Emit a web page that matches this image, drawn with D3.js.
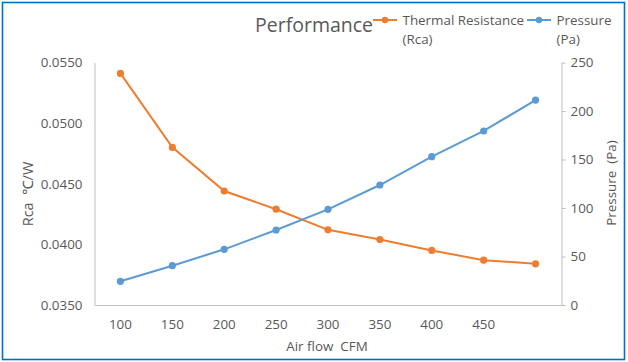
<!DOCTYPE html>
<html>
<head>
<meta charset="utf-8">
<script src="https://cdn.jsdelivr.net/npm/d3@7"></script>
<style>
  html, body { margin: 0; padding: 0; background: #fff; }
  text { font-family: "Open Sans", "Noto Sans", sans-serif; fill: #595959; }
</style>
</head>
<body>
<svg id="chart" width="628" height="362"></svg>
<script>
const categories = ["100", "150", "200", "250", "300", "350", "400", "450", ""];
const thermalResistance = [0.0541, 0.0480, 0.0444, 0.0429, 0.0412, 0.0404, 0.0395, 0.0387, 0.0384];
const pressure = [24.4, 40.5, 57.4, 77.3, 98.6, 123.7, 152.9, 179.4, 211.3];
const leftTicks = [0.035, 0.040, 0.045, 0.050, 0.055];
const rightTicks = [0, 50, 100, 150, 200, 250];

const svg = d3.select("#chart");
const m = { left: 94.5, right: 561.5, top: 62.5, bottom: 305 };
const orange = "#ED7D31", blue = "#5B9BD5", axisColor = "#BFBFBF";
const fs = "13.4px";

// border
svg.append("rect").attr("x", 2.5).attr("y", 2.5).attr("width", 622).attr("height", 357)
  .attr("fill", "#fff").attr("stroke", "#0070C0").attr("stroke-width", 1.6);

const x = d3.scaleBand().domain(d3.range(categories.length)).range([m.left, m.right]);
const yL = d3.scaleLinear().domain([0.035, 0.055]).range([m.bottom, m.top]);
const yR = d3.scaleLinear().domain([0, 250]).range([m.bottom, m.top]);
const cx = i => x(i) + x.bandwidth() / 2;

// left axis
const gL = svg.append("g").attr("transform", `translate(${m.left},0)`)
  .call(d3.axisLeft(yL).tickValues(leftTicks).tickFormat(d3.format(".4f")).tickSize(0).tickPadding(12));
gL.select(".domain").attr("stroke", axisColor);
gL.selectAll("text").style("font-size", fs).attr("fill", "#595959");

// right axis
const gR = svg.append("g").attr("transform", `translate(${m.right},0)`)
  .call(d3.axisRight(yR).tickValues(rightTicks).tickSize(4).tickSizeOuter(0).tickPadding(5));
gR.select(".domain").attr("stroke", axisColor);
gR.selectAll(".tick line").attr("stroke", axisColor);
gR.selectAll("text").style("font-size", fs).attr("fill", "#595959");

// bottom axis
const gB = svg.append("g").attr("transform", `translate(0,${m.bottom})`)
  .call(d3.axisBottom(x).tickFormat(i => categories[i]).tickSize(0).tickPadding(14));
gB.select(".domain").attr("stroke", axisColor);
gB.selectAll("text").style("font-size", fs).attr("fill", "#595959");

// lines
const lineL = d3.line().x((d, i) => cx(i)).y(d => yL(d));
const lineR = d3.line().x((d, i) => cx(i)).y(d => yR(d));
svg.append("path").datum(thermalResistance).attr("d", lineL)
  .attr("fill", "none").attr("stroke", orange).attr("stroke-width", 2);
svg.append("path").datum(pressure).attr("d", lineR)
  .attr("fill", "none").attr("stroke", blue).attr("stroke-width", 2);
svg.selectAll(".ptL").data(thermalResistance).enter().append("circle")
  .attr("cx", (d, i) => cx(i)).attr("cy", d => yL(d)).attr("r", 3.6).attr("fill", orange);
svg.selectAll(".ptR").data(pressure).enter().append("circle")
  .attr("cx", (d, i) => cx(i)).attr("cy", d => yR(d)).attr("r", 3.6).attr("fill", blue);

// axis titles
svg.append("text").attr("transform", "translate(33,194) rotate(-90)")
  .attr("text-anchor", "middle").style("font-size", "14.5px").style("white-space", "pre")
  .text("Rca  ℃/W");
svg.append("text").attr("transform", "translate(616,183) rotate(-90)")
  .attr("text-anchor", "middle").style("font-size", fs).style("white-space", "pre")
  .text("Pressure  (Pa)");
svg.append("text").attr("x", 327).attr("y", 351)
  .attr("text-anchor", "middle").style("font-size", fs).style("white-space", "pre")
  .text("Air flow  CFM");

// title
svg.append("text").attr("x", 255).attr("y", 32).style("font-size", "19.5px").text("Performance");

// legend
const legend = [
  { name: ["Thermal Resistance", "(Rca)"], color: orange, x0: 373 },
  { name: ["Pressure", "(Pa)"], color: blue, x0: 527 }
];
legend.forEach(l => {
  svg.append("line").attr("x1", l.x0).attr("x2", l.x0 + 24).attr("y1", 20).attr("y2", 20)
    .attr("stroke", l.color).attr("stroke-width", 2);
  svg.append("circle").attr("cx", l.x0 + 12).attr("cy", 20).attr("r", 3.2).attr("fill", l.color);
  l.name.forEach((t, k) => {
    svg.append("text").attr("x", l.x0 + 29.5).attr("y", 25 + k * 19)
      .style("font-size", fs).text(t);
  });
});
</script>
</body>
</html>
